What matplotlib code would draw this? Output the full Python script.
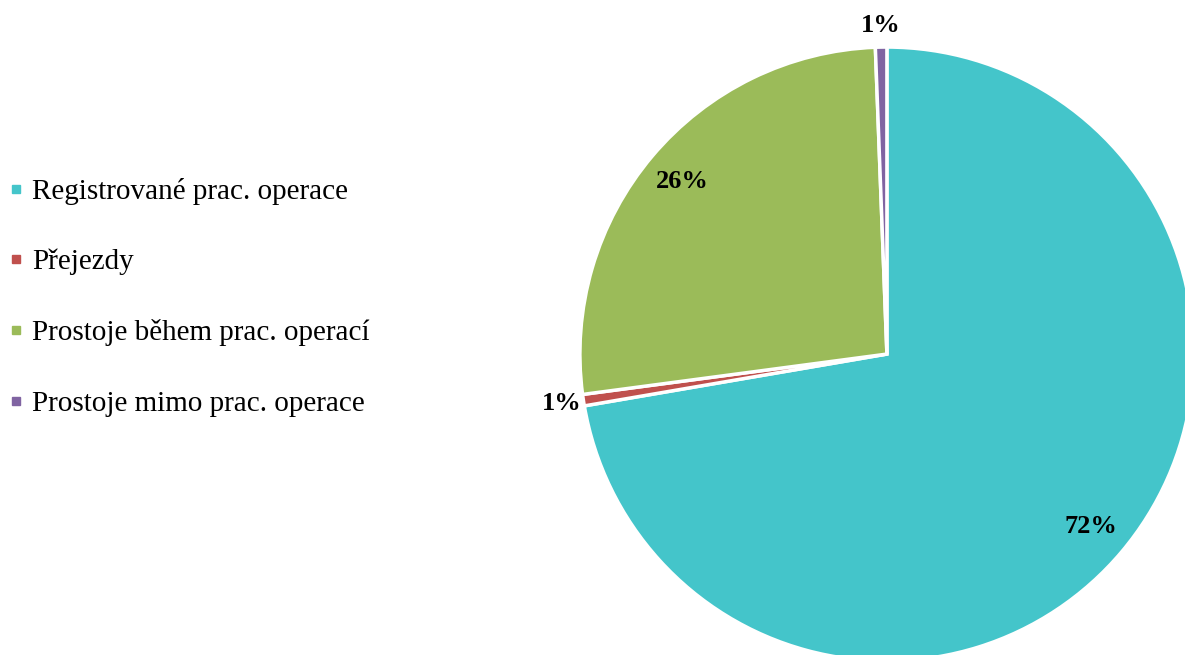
import matplotlib.pyplot as plt
import numpy as np
from matplotlib.lines import Line2D

# share of machine time by activity (%)
categories = ['Registrované prac. operace', 'Přejezdy',
              'Prostoje během prac. operací', 'Prostoje mimo prac. operace']
shares = [72.3, 0.6, 26.5, 0.6]
colors = ['#44C5CA', '#C0504D', '#9BBB59', '#8064A2']

plt.rcParams['font.family'] = ['Liberation Serif', 'DejaVu Serif']

fig = plt.figure(figsize=(11.85, 6.55), dpi=100, facecolor='white')
ax = fig.add_axes([0, 0, 1, 1])

wedges, _ = ax.pie(shares, colors=colors, startangle=90, counterclock=False,
                   radius=1.0, center=(0, 0),
                   wedgeprops=dict(edgecolor='white', linewidth=2.5))

# percentage labels: inside for big slices, just outside for the tiny ones
for w, v in zip(wedges, shares):
    mid = np.deg2rad((w.theta1 + w.theta2) / 2)
    r = 0.87 if v > 5 else 1.07
    ax.text(r * np.cos(mid), r * np.sin(mid), f'{v:.0f}%',
            ha='center', va='center', fontsize=19, fontweight='bold')

# keep the pie on the right and let it run off the edges
ax.set_aspect('equal')
ax.set_xlim(-2.889, 0.971)
ax.set_ylim(-0.980, 1.153)
ax.axis('off')

handles = [Line2D([], [], marker='s', linestyle='none', markersize=6,
                  markerfacecolor=c, markeredgecolor=c) for c in colors]
fig.legend(handles, categories, loc='center left', bbox_to_anchor=(0.0, 0.546),
           frameon=False, fontsize=21, handlelength=0.5, handletextpad=0.3,
           labelspacing=1.51, borderaxespad=0.0, borderpad=0.3)

plt.savefig('out.png', dpi=100)
